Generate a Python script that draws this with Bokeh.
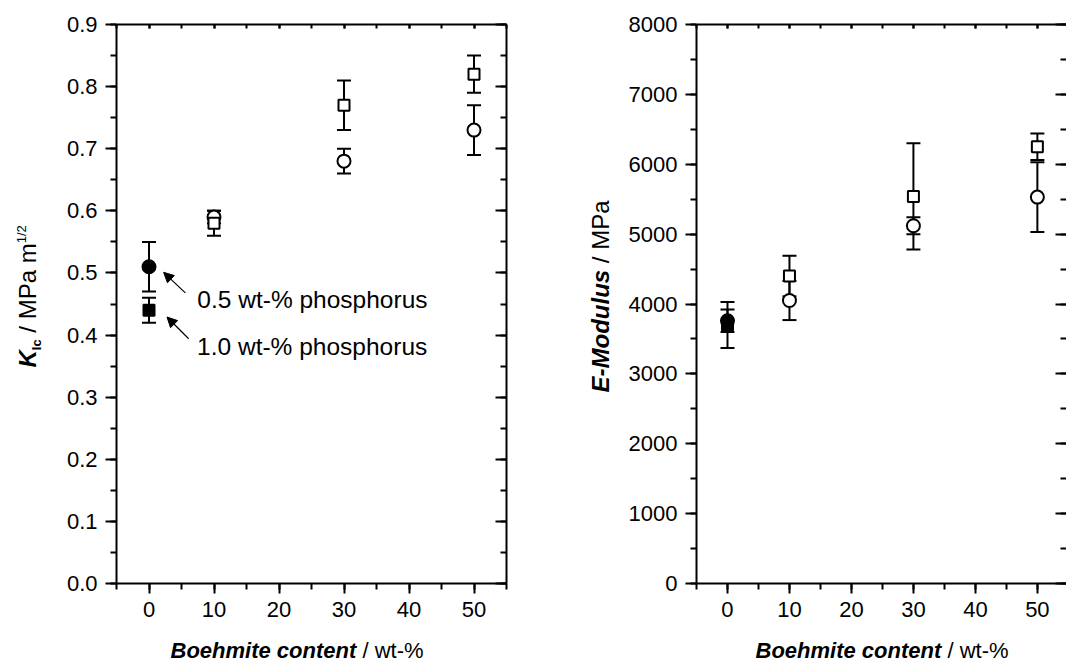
from bokeh.plotting import figure
from bokeh.layouts import row, column
from bokeh.models import (ColumnDataSource, Whisker, TeeHead, LinearAxis, SingleIntervalTicker,
                          NumeralTickFormatter, CustomJSTickFormatter, Label, Arrow, NormalHead, Range1d)
from bokeh.embed import file_html
from bokeh.resources import INLINE

# ---------------- data ----------------
boehmite = [0, 10, 30, 50]
kic_p05 = [0.51, 0.59, 0.68, 0.73]
kic_p05_err = [0.04, 0.01, 0.02, 0.04]
kic_p10 = [0.44, 0.58, 0.77, 0.82]
kic_p10_err = [0.02, 0.02, 0.04, 0.03]
emod_p05 = [3760, 4050, 5120, 5530]
emod_p05_err = [160, 280, 120, 500]
emod_p10 = [3700, 4400, 5540, 6250]
emod_p10_err = [330, 290, 760, 190]
series_labels = ["0.5 wt-% phosphorus", "1.0 wt-% phosphorus"]

# annotation placement (layout only; text anchored at its vertical middle)
note_pos = [(7.44, 0.4566), (7.4, 0.381)]
arrow_pos = [((5.6, 0.468), (2.25, 0.501)), ((6.1, 0.394), (2.77, 0.429))]

FONT = "Liberation Sans"
ROW_H = 630
TOP_B = 24
FRAME_H = 559
BOT_B = ROW_H - TOP_B - FRAME_H
STRIP_H = 32
ASC = 0.905  # font ascent in em

REG = {' ': 278, '/': 278, 'w': 722, 't': 278, '-': 333, '%': 889, 'M': 833, 'P': 667,
       'a': 556, 'm': 833, '1': 556, '2': 556}
BOLD = {'B': 722, 'o': 611, 'e': 556, 'h': 611, 'm': 889, 'i': 278, 't': 333, ' ': 278,
        'c': 556, 'n': 611, 'E': 667, '-': 333, 'M': 833, 'd': 611, 'u': 611, 'l': 278,
        's': 556, 'K': 722, 'I': 278}


def twidth(s, size, bold):
    tab = BOLD if bold else REG
    return sum(tab.get(ch, 556) for ch in s) * size / 1000.0


def rich_label(p, pieces, x0, y0, vertical=False):
    """pieces: (text, style, size, shift); (x0, y0) = start of the baseline,
    shift = baseline offset (up positive). Leading spaces become gaps.
    Texts are anchored at their top-left corner, so rotation is unambiguous."""
    pos = 0.0
    for text, style, size, shift in pieces:
        bold = "bold" in style
        stripped = text.lstrip(" ")
        pos += twidth(text[:len(text) - len(stripped)], size, bold)
        up = shift + ASC * size
        common = dict(text=stripped, text_align="left", text_baseline="top",
                      text_font=FONT, text_font_style=style, text_font_size=f"{size}px",
                      text_color="black")
        if vertical:
            lab = Label(x=x0 - up, y=y0 + pos, angle=90, angle_units="deg", **common)
        else:
            lab = Label(x=x0 + pos, y=y0 + up, **common)
        p.add_layout(lab)
        pos += twidth(stripped, size, bold)


def label_fig(w, h, in_row=False):
    # a blank figure whose data units are pixels (y measured up from its bottom edge)
    if in_row:
        kw = dict(min_border_left=0, min_border_right=0,
                  min_border_top=TOP_B, min_border_bottom=BOT_B,
                  y_range=Range1d(BOT_B, BOT_B + FRAME_H))
    else:
        kw = dict(min_border=0, y_range=Range1d(0, h))
    f = figure(width=w, height=h, output_backend="svg", toolbar_location=None, title=None,
               x_range=Range1d(0, w), x_axis_type=None, y_axis_type=None, **kw)
    f.grid.visible = False
    f.outline_line_color = None
    f.background_fill_color = "white"
    f.border_fill_color = "white"
    return f


def blank_axis(ticker, tick_in_major, tick_in_minor, line=True):
    ax = LinearAxis(ticker=ticker, formatter=CustomJSTickFormatter(code="return ''"),
                    major_label_text_font_size="0px", major_label_standoff=0,
                    major_tick_out=0, minor_tick_out=0,
                    major_tick_in=tick_in_major, minor_tick_in=tick_in_minor,
                    axis_line_width=2, major_tick_line_width=2, minor_tick_line_width=2,
                    axis_line_color="black" if line else None,
                    major_tick_line_color="black", minor_tick_line_color="black")
    return ax


def make_panel(width, border_left, border_right, x_end, y_end, y_interval, y_fmt,
               y05, e05, y10, e10, right_line=True):
    p = figure(width=width, height=ROW_H, output_backend="svg", toolbar_location=None, title=None,
               x_range=Range1d(-5, x_end), y_range=Range1d(0, y_end),
               min_border_left=border_left, min_border_right=border_right,
               min_border_top=TOP_B, min_border_bottom=BOT_B)
    p.outline_line_color = None
    p.grid.visible = False
    p.background_fill_color = "white"
    p.border_fill_color = "white"

    xt = SingleIntervalTicker(interval=10, num_minor_ticks=2)
    yt = SingleIntervalTicker(interval=y_interval, num_minor_ticks=2)
    p.xaxis.ticker = xt
    p.yaxis.ticker = yt
    p.yaxis.formatter = NumeralTickFormatter(format=y_fmt)
    for ax in (p.xaxis[0], p.yaxis[0]):
        ax.axis_line_width = 2
        ax.major_tick_line_width = 2
        ax.minor_tick_line_width = 2
        ax.major_tick_in = 0
        ax.minor_tick_in = 0
        ax.major_label_text_font = FONT
        ax.major_label_text_font_size = "22px"
        ax.major_label_text_color = "black"
        ax.major_label_standoff = 8
        ax.axis_line_color = "black"
    p.xaxis.major_tick_out = 10
    p.xaxis.minor_tick_out = 6
    p.yaxis.major_tick_out = 11
    p.yaxis.minor_tick_out = 6

    p.add_layout(blank_axis(xt, 4, 4), "above")
    p.add_layout(blank_axis(yt, 11, 6, line=right_line), "right")

    for ys, es, marker, size in ((y05, e05, "circle", 13), (y10, e10, "square", 11)):
        src = ColumnDataSource(dict(
            x=boehmite, y=ys,
            upper=[v + e for v, e in zip(ys, es)],
            lower=[v - e for v, e in zip(ys, es)],
            fill=["black" if b == 0 else "white" for b in boehmite]))
        w = Whisker(base="x", upper="upper", lower="lower", source=src, dimension="height",
                    line_width=2, line_color="black",
                    upper_head=TeeHead(size=14, line_width=2, line_color="black"),
                    lower_head=TeeHead(size=14, line_width=2, line_color="black"))
        p.add_layout(w)
        p.scatter("x", "y", source=src, marker=marker, size=size, fill_color="fill",
                  line_color="black", line_width=2)
    return p


# ---------------- left panel: K_Ic ----------------
yl1 = label_fig(50, ROW_H, in_row=True)
p1 = make_panel(476, 66, 20, 55, 0.9, 0.1, "0.0", kic_p05, kic_p05_err, kic_p10, kic_p10_err)
for (tx, ty), txt in zip(note_pos, series_labels):
    p1.add_layout(Label(x=tx, y=ty, text=txt, text_font=FONT, text_font_size="24.5px",
                        text_align="left", text_baseline="middle", text_color="black"))
for (xs, ys), (xe, ye) in arrow_pos:
    p1.add_layout(Arrow(x_start=xs, y_start=ys, x_end=xe, y_end=ye, line_width=1.2,
                        line_color="black",
                        end=NormalHead(size=10, fill_color="black", line_color="black")))
rich_label(yl1, [("K", "bold italic", 24, 0), ("Ic", "bold", 13, -5),
                 (" / MPa m", "normal", 24, 0), ("1/2", "normal", 13, 10)],
           35, 263, vertical=True)

# ---------------- right panel: E-modulus ----------------
yl2 = label_fig(94, ROW_H, in_row=True)
p2 = make_panel(446, 76, 0, 54.7, 8000, 1000, "0", emod_p05, emod_p05_err, emod_p10, emod_p10_err,
                right_line=False)
rich_label(yl2, [("E-Modulus", "bold italic", 24, 0), (" / MPa", "normal", 24, 0)],
           82, 238, vertical=True)

# ---------------- x-axis titles strip ----------------
xl = label_fig(1066, STRIP_H)
for x0 in (170, 755):
    rich_label(xl, [("Boehmite content", "bold italic", 22, 0), (" / wt-%", "normal", 22, 0)],
               x0, 5)

layout = column(row(yl1, p1, yl2, p2), xl)
open("out.html", "w").write(file_html(layout, INLINE))
